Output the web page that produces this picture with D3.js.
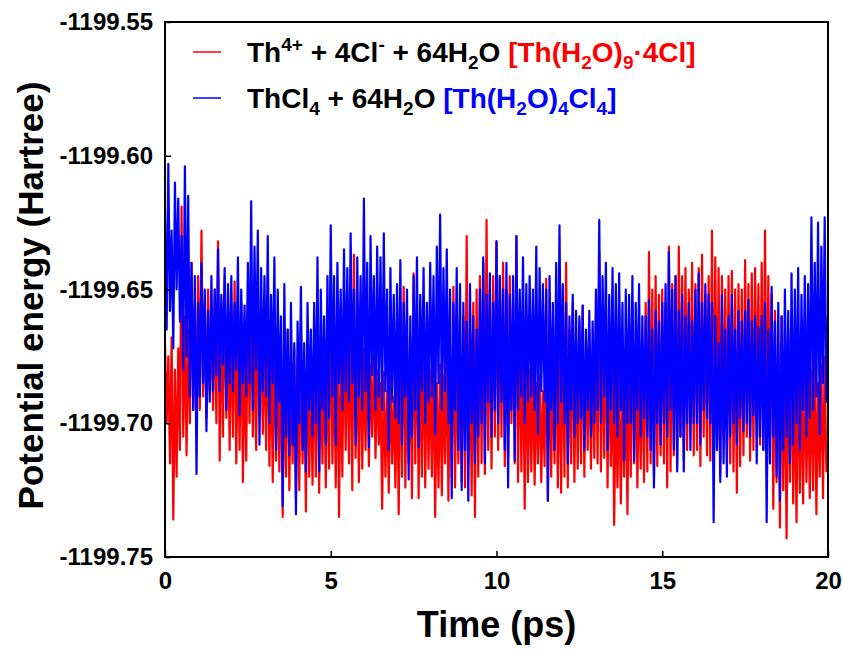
<!DOCTYPE html>
<html>
<head>
<meta charset="utf-8">
<script src="https://cdn.jsdelivr.net/npm/d3@7"></script>
<style>
  body { margin: 0; background: #fff; }
  svg { display: block; font-family: "Liberation Sans", Arial, sans-serif; }
</style>
</head>
<body>
<div id="chart"></div>
<script>
// sampled every 0.05 ps, energies stored in mHartree relative to -1199.70 Ha
const timeStep = 0.05;
const energyRef = -1199.70;

// Th4+ + 4Cl- + 64H2O  [Th(H2O)9.4Cl]
const redDelta = [
  30, 0, 25, -15, 32, -36, 20, -20, 28, -10,   81, -5, 40, -12, 35, 0, 60, 5, 45, 2,
  55, 5, 72, 10, 45, 2, 50, 12, 40, 5,         50, 0, 68, -14, 45, -5, 55, 2, 42, -10,
  40, -5, 53, -15, 35, -10, 45, -22, 30, -14,  45, 0, 51, -5, 38, -10, 42, 3, 35, -4,
  35, -10, 45, -16, 30, -22, 38, -14, 28, -18, 30, -35, 25, -20, 35, -25, 20, -15, 28, -28,
  25, -25, 36, -15, 20, -33, 30, -20, 22, -23, 30, -20, 40, -26, 25, -15, 32, -24, 28, -17,
  57, -15, 30, -24, 35, -35, 28, -20, 40, -10, 35, -15, 45, -25, 63, -13, 30, -22, 38, -17,
  28, -10, 31, -16, 22, -5, 25, -13, 20, -8,   15, -32, 19, -20, 12, -26, 18, -15, 10, -24,
  20, -34, 35, -20, 51, -24, 30, -15, 25, -28, 56, -15, 45, -28, 30, -20, 35, -24, 25, -17,
  20, -20, 25, -35, 15, -24, 22, -27, 18, -15, 30, -29, 25, -20, 51, -24, 28, -15, 35, -22,
  40, -24, 70, -15, 35, -27, 45, -35, 50, -20, 55, -15, 60, -19, 76, -10, 50, -17, 55, -5,
  68, -10, 55, -5, 60, -16, 50, -13, 55, 0,    45, -15, 70, -22, 40, -18, 35, -32, 30, -22,
  20, -18, 22, -23, 15, -15, 18, -22, 12, -16, 54, -29, 30, -20, 25, -15, 35, -24, 28, -26,
  40, -20, 60, -24, 35, -15, 45, -22, 30, -17, 38, -15, 44, -20, 30, -10, 35, -17, 25, -13,
  40, -15, 64, -18, 35, -13, 45, -24, 30, -16, 22, -38, 15, -24, 18, -30, 12, -20, 20, -34,
  25, -20, 45, -15, 30, -24, 20, -17, 28, -22, 45, -18, 64, -15, 50, -20, 55, -16, 48, -12,
  50, -15, 45, -24, 66, -18, 52, -12, 55, -16, 66, -5, 55, -14, 58, -10, 50, 0, 60, -12,
  52, -10, 58, -16, 63, -5, 48, -12, 55, -14,  72, -15, 62, -10, 58, -19, 55, -5, 50, -12,
  55, -15, 57, -18, 50, -26, 52, -16, 50, -12, 61, -5, 52, -14, 56, -10, 58, 0, 52, -8,
  60, -10, 72, -15, 55, -5, 48, -32, 42, -22,  30, -39, 40, -25, 25, -43, 35, -22, 28, -30,
  20, -37, 27, -26, 15, -30, 22, -22, 18, -28, 20, -25, 27, -34, 15, -20, 22, -28, 25, -18,
  -12
];

// ThCl4 + 64H2O  [Th(H2O)4Cl4]
const blueDelta = [
  80, 35, 97, 42, 72, 28, 90, 50, 84, 38,    70, 20, 96, 25, 85, 10, 60, 5, 55, -19,
  45, 10, 60, 15, 50, -3, 42, 8, 55, 12,     50, 18, 65, 12, 48, 22, 58, 5, 52, 15,
  55, 12, 45, 20, 62, 3, 50, 15, 44, 10,     60, 15, 83, 5, 66, 20, 72, -8, 58, 12,
  55, 10, 70, 0, 48, 15, 62, -10, 50, 8,     40, -31, 52, -5, 35, -12, 45, -8, 30, -34,
  38, 0, 51, -10, 30, -18, 45, 5, 35, -5,    45, 0, 62, -18, 50, 5, 40, -8, 55, 2,
  74, 10, 55, -8, 60, 15, 50, 5, 65, 12,     58, 8, 71, 15, 50, -8, 62, 10, 55, 5,
  84, 12, 60, -9, 70, 18, 55, 5, 66, 10,     62, 5, 71, 12, 50, -10, 58, 8, 48, 2,
  52, 0, 61, -8, 45, 10, 50, -21, 40, -5,    55, 5, 62, -9, 48, 12, 58, 0, 45, 8,
  60, 10, 55, -4, 66, 15, 78, 5, 58, 12,     65, 0, 50, -28, 45, 5, 58, -10, 52, -25,
  45, -10, 38, -29, 52, 0, 40, -15, 35, -5,  50, 0, 62, -15, 48, 8, 56, -5, 45, 5,
  68, 0, 55, 8, 50, -10, 60, -24, 48, 5,     55, -14, 70, 5, 50, 10, 62, 0, 52, 8,
  55, 10, 50, 5, 66, -4, 58, 12, 52, 8,      50, -29, 55, 5, 45, -10, 60, 0, 74, 8,
  52, 0, 45, -15, 40, 5, 48, -5, 42, 0,      40, 2, 44, -10, 35, 5, 42, -5, 38, 0,
  50, 5, 76, 0, 55, 10, 60, -10, 48, 5,      58, 0, 52, -5, 56, 5, 45, -14, 50, 0,
  48, 0, 55, -14, 45, 5, 52, -5, 40, 2,      40, -5, 46, -10, 35, -24, 42, 0, 38, -8,
  45, 0, 52, -5, 64, 5, 50, -10, 55, -18,    42, -5, 48, -18, 40, 0, 45, -10, 38, 0,
  50, 0, 56, -8, 45, 5, 52, 2, 48, 0,        45, -37, 40, -10, 30, -22, 48, -15, 35, -20,
  40, -5, 48, 0, 35, -8, 42, 2, 38, -3,      42, 0, 46, -5, 38, 3, 40, -15, 36, -5,
  40, -10, 45, -37, 35, -15, 51, -5, 38, -20, 45, -29, 40, -10, 50, -5, 42, -15, 56, -8,
  50, 0, 58, -10, 48, 5, 55, -5, 52, 2,      77, 5, 60, 10, 75, -4, 66, 15, 77, 8,
  40
];

const xTicks = [0, 5, 10, 15, 20];
const yTicks = [-1199.75, -1199.70, -1199.65, -1199.60, -1199.55];

const seriesColors = { red: "#ff0000", blue: "#0000ff" };

const width = 844, height = 650;
const margin = { left: 165, right: 16, top: 22, bottom: 93 };

const svg = d3.select("#chart").append("svg")
    .attr("width", width)
    .attr("height", height);

const x = d3.scaleLinear().domain([0, 20]).range([margin.left, width - margin.right]);
const y = d3.scaleLinear().domain([-1199.75, -1199.55]).range([height - margin.bottom, margin.top]);

// turn stored deltas into points
const toPoints = arr => arr.map((v, i) => ({ t: i * timeStep, e: energyRef + v / 1000 }));

svg.append("clipPath").attr("id", "plotClip")
  .append("rect")
    .attr("x", x(0)).attr("y", y(-1199.55))
    .attr("width", x(20) - x(0)).attr("height", y(-1199.75) - y(-1199.55));

const line = d3.line().x(d => x(d.t)).y(d => y(d.e));

const plot = svg.append("g").attr("clip-path", "url(#plotClip)");
plot.append("path")
    .datum(toPoints(redDelta))
    .attr("fill", "none")
    .attr("stroke", seriesColors.red)
    .attr("stroke-width", 2.2)
    .attr("stroke-linejoin", "round")
    .attr("d", line);
plot.append("path")
    .datum(toPoints(blueDelta))
    .attr("fill", "none")
    .attr("stroke", seriesColors.blue)
    .attr("stroke-width", 2.2)
    .attr("stroke-linejoin", "round")
    .attr("d", line);

// axes, ticks pointing inward
const xAxis = svg.append("g")
    .attr("transform", `translate(0,${y(-1199.75)})`)
    .call(d3.axisBottom(x).tickValues(xTicks).tickSize(-6).tickPadding(15).tickFormat(d3.format("d")));
const yAxis = svg.append("g")
    .attr("transform", `translate(${x(0)},0)`)
    .call(d3.axisLeft(y).tickValues(yTicks).tickSize(-6).tickPadding(12).tickFormat(d => d.toFixed(2)));

[xAxis, yAxis].forEach(g => {
  g.select(".domain").remove();
  g.selectAll(".tick line").attr("stroke", "#000").attr("stroke-width", 1.5);
  g.selectAll(".tick text")
      .attr("fill", "#000")
      .style("font-size", "24px")
      .style("font-weight", "bold");
});

// frame
svg.append("rect")
    .attr("x", x(0)).attr("y", y(-1199.55))
    .attr("width", x(20) - x(0)).attr("height", y(-1199.75) - y(-1199.55))
    .attr("fill", "none")
    .attr("stroke", "#000")
    .attr("stroke-width", 2);

// axis titles
svg.append("text")
    .attr("x", (x(0) + x(20)) / 2)
    .attr("y", 637)
    .attr("text-anchor", "middle")
    .style("font-size", "36px")
    .style("font-weight", "bold")
    .text("Time (ps)");

svg.append("text")
    .attr("transform", `translate(43,${(y(-1199.55) + y(-1199.75)) / 2 + 6}) rotate(-90)`)
    .attr("text-anchor", "middle")
    .style("font-size", "35px")
    .style("font-weight", "bold")
    .text("Potential energy (Hartree)");

// legend with sub/superscripts
const legendRows = [
  { color: seriesColors.red, y: 62, parts: [
    { t: "Th" }, { t: "4+", s: "sup" }, { t: " + 4Cl" }, { t: "-", s: "sup" }, { t: " + 64H" },
    { t: "2", s: "sub" }, { t: "O " },
    { t: "[Th(H", c: seriesColors.red }, { t: "2", s: "sub", c: seriesColors.red },
    { t: "O)", c: seriesColors.red }, { t: "9", s: "sub", c: seriesColors.red },
    { t: "\u00b74Cl]", c: seriesColors.red }
  ]},
  { color: seriesColors.blue, y: 108, parts: [
    { t: "ThCl" }, { t: "4", s: "sub" }, { t: " + 64H" }, { t: "2", s: "sub" }, { t: "O " },
    { t: "[Th(H", c: seriesColors.blue }, { t: "2", s: "sub", c: seriesColors.blue },
    { t: "O)", c: seriesColors.blue }, { t: "4", s: "sub", c: seriesColors.blue },
    { t: "Cl", c: seriesColors.blue }, { t: "4", s: "sub", c: seriesColors.blue },
    { t: "]", c: seriesColors.blue }
  ]}
];

const shift = { sup: -11, sub: 7 };

legendRows.forEach(row => {
  svg.append("line")
      .attr("x1", 193).attr("x2", 221)
      .attr("y1", row.y - 10).attr("y2", row.y - 10)
      .attr("stroke", row.color)
      .attr("stroke-width", 1.5);

  const text = svg.append("text")
      .attr("x", 247).attr("y", row.y)
      .style("font-size", "28px")
      .style("font-weight", "bold");

  let prev = 0;
  row.parts.forEach(p => {
    const off = p.s ? shift[p.s] : 0;
    text.append("tspan")
        .attr("dy", off - prev)
        .attr("fill", p.c || "#000")
        .style("font-size", p.s ? "19px" : "28px")
        .text(p.t);
    prev = off;
  });
});
</script>
</body>
</html>
